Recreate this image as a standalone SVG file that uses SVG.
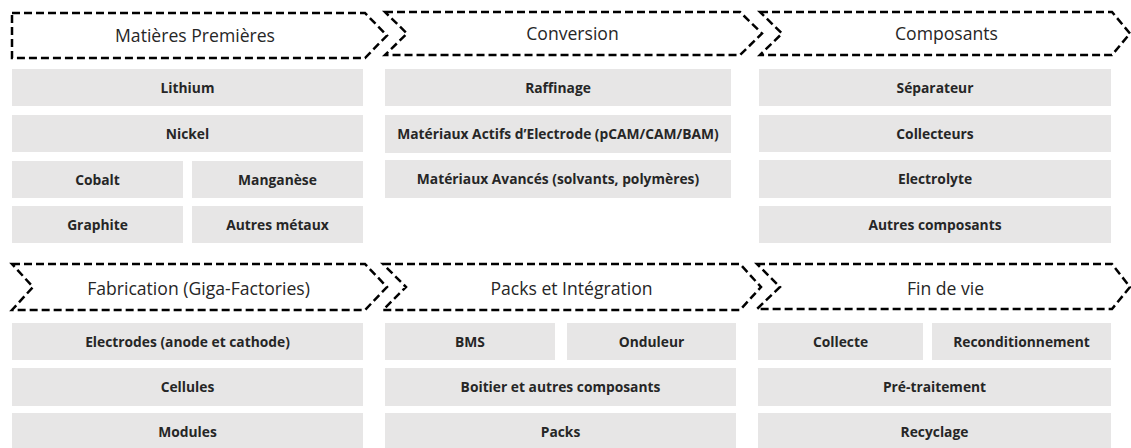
<svg xmlns="http://www.w3.org/2000/svg" width="1131" height="448" viewBox="0 0 1131 448">
<style>
.chev{fill:#ffffff;stroke:#000000;stroke-width:2.5;stroke-dasharray:8 4;stroke-linejoin:miter}
.hdr{font-family:"Open Sans","Liberation Sans",sans-serif;font-size:17.6px;font-weight:500;fill:#262626;text-anchor:middle}
.box{fill:#e7e6e6}
.lbl{font-family:"Open Sans","Liberation Sans",sans-serif;font-size:13.8px;font-weight:700;fill:#262626;text-anchor:middle}
</style>
<rect width="1131" height="448" fill="#ffffff"/>
<g id="stage-matieres">
<path class="chev" d="M12,13 H365 L387,35.5 L365,58 H12 Z"/>
<text class="hdr" x="195" y="42">Matières Premières</text>
<rect class="box" x="12" y="69" width="351" height="37"/><text class="lbl" x="187.5" y="92.5">Lithium</text>
<rect class="box" x="12" y="115" width="351" height="37"/><text class="lbl" x="187.5" y="138.5">Nickel</text>
<rect class="box" x="12" y="161" width="171" height="37"/><text class="lbl" x="97.5" y="184.5">Cobalt</text>
<rect class="box" x="192" y="161" width="171" height="37"/><text class="lbl" x="277.5" y="184.5">Manganèse</text>
<rect class="box" x="12" y="206" width="171" height="37"/><text class="lbl" x="97.5" y="229.5">Graphite</text>
<rect class="box" x="192" y="206" width="171" height="37"/><text class="lbl" x="277.5" y="229.5">Autres métaux</text>
</g>
<g id="stage-conversion">
<path class="chev" d="M385,12 H740 L762,33.5 L740,55 H385 L407,33.5 Z"/>
<text class="hdr" x="572.5" y="40">Conversion</text>
<rect class="box" x="385" y="69" width="346" height="37"/><text class="lbl" x="558" y="92.5">Raffinage</text>
<rect class="box" x="385" y="115" width="346" height="38"/><text class="lbl" x="558" y="139">Matériaux Actifs d’Electrode (pCAM/CAM/BAM)</text>
<rect class="box" x="385" y="160" width="346" height="38"/><text class="lbl" x="558" y="184">Matériaux Avancés (solvants, polymères)</text>
</g>
<g id="stage-composants">
<path class="chev" d="M760,12 H1112 L1130,33.5 L1112,55 H760 L782,33.5 Z"/>
<text class="hdr" x="946.5" y="40">Composants</text>
<rect class="box" x="759" y="69" width="352" height="37"/><text class="lbl" x="935" y="92.5">Séparateur</text>
<rect class="box" x="759" y="115" width="352" height="37"/><text class="lbl" x="935" y="138.5">Collecteurs</text>
<rect class="box" x="759" y="160" width="352" height="38"/><text class="lbl" x="935" y="184">Electrolyte</text>
<rect class="box" x="759" y="206" width="352" height="37"/><text class="lbl" x="935" y="229.5">Autres composants</text>
</g>
<g id="stage-fabrication">
<path class="chev" d="M12,264 H365 L387,287 L365,310 H12 L33,287 Z"/>
<text class="hdr" x="198.5" y="295">Fabrication (Giga-Factories)</text>
<rect class="box" x="12" y="323" width="351" height="37"/><text class="lbl" x="187.5" y="346.5">Electrodes (anode et cathode)</text>
<rect class="box" x="12" y="368" width="351" height="38"/><text class="lbl" x="187.5" y="392">Cellules</text>
<rect class="box" x="12" y="413" width="351" height="35"/><text class="lbl" x="187.5" y="436.5">Modules</text>
</g>
<g id="stage-packs">
<path class="chev" d="M383,264 H740 L761,287 L740,310 H383 L406,287 Z"/>
<text class="hdr" x="571.5" y="295">Packs et Intégration</text>
<rect class="box" x="385" y="323" width="170" height="37"/><text class="lbl" x="470" y="346.5">BMS</text>
<rect class="box" x="567" y="323" width="169" height="37"/><text class="lbl" x="651.5" y="346.5">Onduleur</text>
<rect class="box" x="385" y="368" width="351" height="38"/><text class="lbl" x="560.5" y="392">Boitier et autres composants</text>
<rect class="box" x="385" y="413" width="351" height="35"/><text class="lbl" x="560.5" y="436.5">Packs</text>
</g>
<g id="stage-findevie">
<path class="chev" d="M757,264 H1112 L1130,287 L1112,309 H757 L780,287 Z"/>
<text class="hdr" x="945.5" y="295">Fin de vie</text>
<rect class="box" x="758" y="323" width="165" height="37"/><text class="lbl" x="840.5" y="346.5">Collecte</text>
<rect class="box" x="932" y="323" width="179" height="37"/><text class="lbl" x="1021.5" y="346.5">Reconditionnement</text>
<rect class="box" x="758" y="368" width="353" height="38"/><text class="lbl" x="934.5" y="392">Pré-traitement</text>
<rect class="box" x="758" y="413" width="353" height="35"/><text class="lbl" x="934.5" y="436.5">Recyclage</text>
</g>
<g id="connectors"></g>
</svg>
